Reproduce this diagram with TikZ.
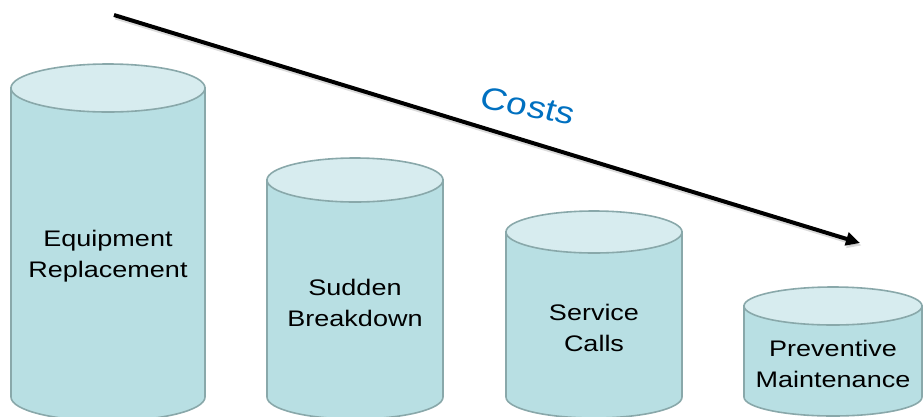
\documentclass[tikz,border=0pt]{standalone}
\usepackage{fontspec}
\setmainfont{Liberation Sans}
\usetikzlibrary{arrows.meta}
\definecolor{drumside}{RGB}{184,223,227}
\definecolor{drumlid}{RGB}{215,236,239}
\definecolor{drumedge}{RGB}{137,168,170}
\definecolor{costblue}{RGB}{0,112,192}
\tikzset{
  drumbody/.style={draw=drumedge, fill=drumside, line width=1.6pt},
  drumtop/.style={draw=drumedge, fill=drumlid, line width=1.6pt},
  drumtext/.style={align=center, font=\fontsize{22.5}{31}\selectfont, xscale=1.2, inner sep=0pt},
  costtext/.style={text=costblue, font=\fontsize{31}{36}\selectfont, xscale=1.2, rotate=-13, inner sep=0pt},
  trend/.style={line width=4pt, -{Triangle[length=14pt,width=13pt]}},
  trendshadow/.style={trend, draw=black!40, opacity=.35}
}
% centre x, lid y, x radius, y radius
\newcommand{\drum}[4]{%
  \filldraw[drumbody] (#1-#3,#2) -- (#1-#3,397)
    arc[start angle=180, end angle=360, x radius=#3pt, y radius=#4pt] -- (#1+#3,#2) -- cycle;
  \filldraw[drumtop] (#1,#2) ellipse[x radius=#3pt, y radius=#4pt];
}
\begin{document}
\begin{tikzpicture}[x=1pt, y=-1pt]
  \useasboundingbox (0,0) rectangle (923,416);
  \clip (0,0) rectangle (923,416);
  % the four drums
  \drum{108}{88}{97}{24}
  \drum{355}{180}{88}{22}
  \drum{594}{232}{88}{21}
  \drum{833}{306}{89}{19}
  \node[drumtext] (replacement) at (108,256) {Equipment\\Replacement};
  \node[drumtext] (breakdown) at (355,303) {Sudden\\Breakdown};
  \node[drumtext] (calls) at (594,328) {Service\\Calls};
  \node[drumtext] (preventive) at (833,364) {Preventive\\Maintenance};
  % cost trend
  \coordinate (trendstart) at (114,15);
  \coordinate (trendend) at (860,243);
  \coordinate (shadowstart) at (115.5,17.5);
  \coordinate (shadowend) at (861.5,245.5);
  \draw[trendshadow] (shadowstart) -- (shadowend);
  \draw[trend] (trendstart) -- (trendend);
  \node[costtext] (costs) at (528,106) {Costs};
\end{tikzpicture}
\end{document}
